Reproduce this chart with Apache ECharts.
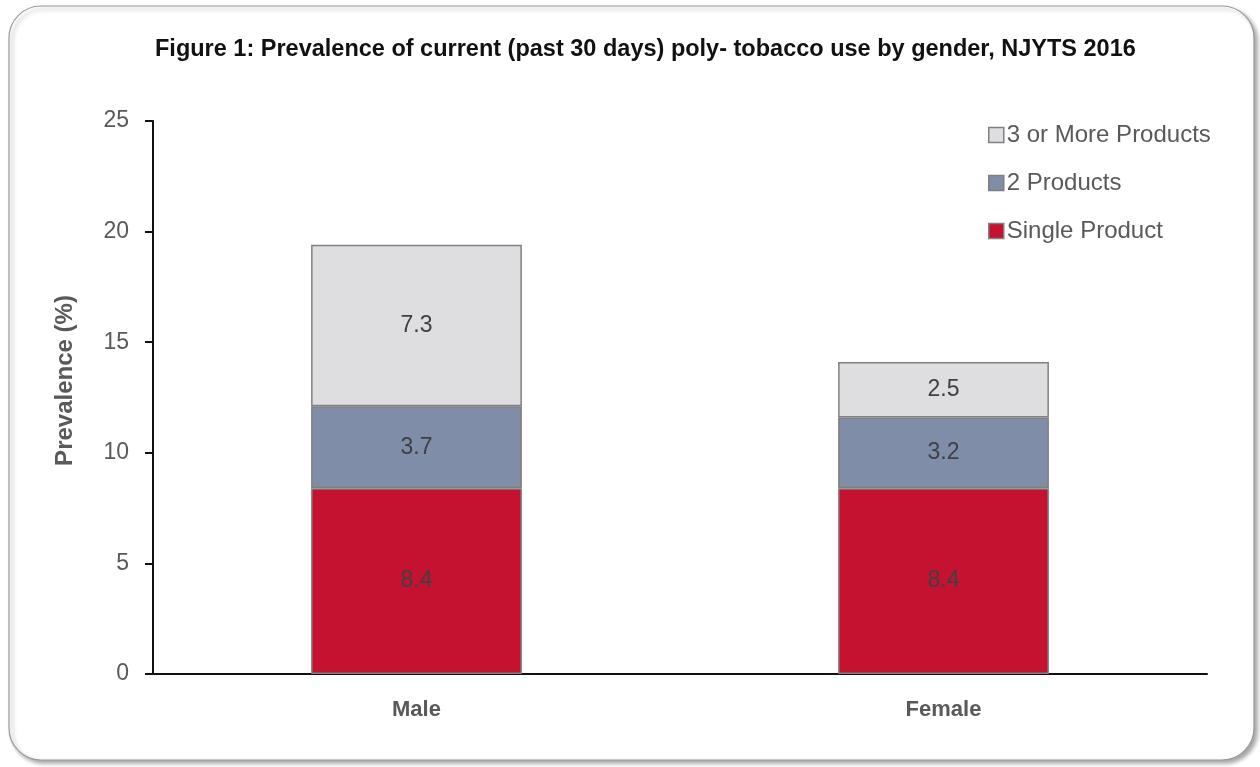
<!DOCTYPE html>
<html lang="en">
<head>
    <meta charset="UTF-8">
    <title>Poly-tobacco use by gender</title>
    <script src="https://cdn.jsdelivr.net/npm/echarts@6/dist/echarts.min.js"></script>
    <style>
        html, body { margin: 0; padding: 0; background: #fff; }
        #container { width: 1260px; height: 767px; }
    </style>
</head>
<body>
    <div id="container"></div>
    <script>
        var categories = ['Male', 'Female'];
        var seriesNames = ['Single Product', '2 Products', '3 or More Products'];
        var single = [8.4, 8.4];
        var two = [3.7, 3.2];
        var threePlus = [7.3, 2.5];
        var yTicks = [0, 5, 10, 15, 20, 25];

        var colorPannel = ['#C41230', '#7F8DA9', '#DEDEE0'];
        var font = '"Liberation Sans", Arial, sans-serif';

        function barSeries(name, values, color) {
            return {
                name: name,
                type: 'bar',
                stack: 'total',
                barWidth: '40%',
                data: values,
                itemStyle: { color: color, borderColor: '#808080', borderWidth: 1.5 },
                label: {
                    show: true,
                    position: 'inside',
                    color: '#404040',
                    fontFamily: font,
                    fontSize: 23,
                    formatter: function (p) { return p.value.toFixed(1); }
                }
            };
        }

        var myChart = echarts.init(document.getElementById('container'));
        var option = {
            animation: false,
            textStyle: { fontFamily: font },
            graphic: [{
                type: 'rect',
                z: -10,
                shape: { x: 9, y: 6, width: 1245, height: 754, r: 32 },
                style: {
                    fill: '#fff',
                    stroke: '#9a9a9a',
                    lineWidth: 1.2,
                    shadowBlur: 4,
                    shadowOffsetX: 3,
                    shadowOffsetY: 3,
                    shadowColor: 'rgba(0,0,0,0.35)'
                }
            }],
            title: {
                text: 'Figure 1: Prevalence of current (past 30 days) poly- tobacco use by gender, NJYTS 2016',
                left: 150,
                top: 33,
                textStyle: { fontFamily: font, fontSize: 23.5, fontWeight: 'bold', color: '#111' }
            },
            legend: {
                data: seriesNames.slice().reverse(),
                orient: 'vertical',
                left: 983,
                top: 118,
                itemWidth: 15,
                itemHeight: 15,
                itemGap: 24,
                icon: 'rect',
                itemStyle: { borderColor: '#808080', borderWidth: 1.5 },
                textStyle: { fontFamily: font, fontSize: 24, color: '#595959', padding: [0, 0, 0, -2] }
            },
            grid: { left: 153, right: 53, top: 121, bottom: 93 },
            xAxis: {
                type: 'category',
                data: categories,
                axisLine: { lineStyle: { color: '#111', width: 2 } },
                axisTick: { show: false },
                axisLabel: { fontFamily: font, fontSize: 22, fontWeight: 'bold', color: '#595959', margin: 25 }
            },
            yAxis: {
                type: 'value',
                min: yTicks[0],
                max: yTicks[yTicks.length - 1],
                interval: 5,
                name: 'Prevalence (%)',
                nameLocation: 'middle',
                nameGap: 76,
                nameTextStyle: { fontFamily: font, fontSize: 24, color: '#595959', fontWeight: 'bold', padding: [0, 0, 0, 34] },
                axisLine: { show: true, lineStyle: { color: '#111', width: 2 } },
                axisTick: { show: true, length: 8, lineStyle: { color: '#111', width: 2 } },
                splitLine: { show: false },
                axisLabel: { fontFamily: font, fontSize: 23, color: '#595959', margin: 24 }
            },
            series: [
                barSeries(seriesNames[0], single, colorPannel[0]),
                barSeries(seriesNames[1], two, colorPannel[1]),
                barSeries(seriesNames[2], threePlus, colorPannel[2])
            ]
        };
        myChart.setOption(option);
    </script>
</body>
</html>
